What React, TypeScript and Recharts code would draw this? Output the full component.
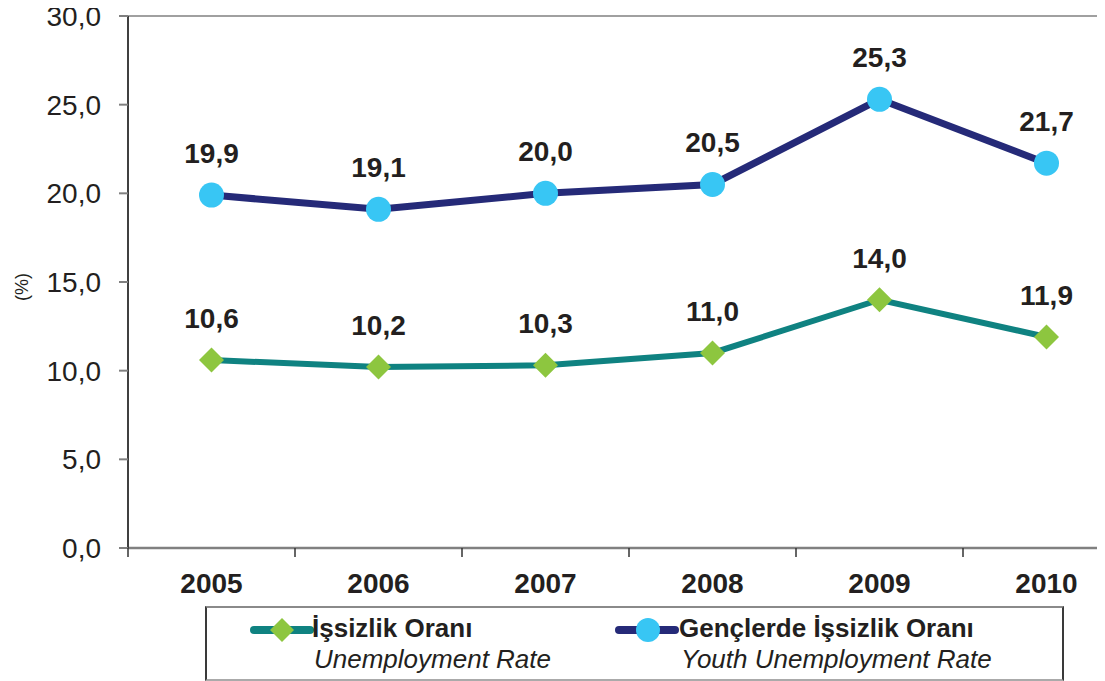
import React from 'react';
import { LineChart, Line, XAxis, YAxis, ReferenceLine, LabelList } from 'recharts';

const years = ['2005', '2006', '2007', '2008', '2009', '2010'];
const unemployment = [10.6, 10.2, 10.3, 11.0, 14.0, 11.9];
const youth = [19.9, 19.1, 20.0, 20.5, 25.3, 21.7];
const yTicks = [0, 5, 10, 15, 20, 25, 30];
const xTicks = [0, 0.5, 1, 1.5, 2, 2.5, 3, 3.5, 4, 4.5, 5, 5.5, 6];
const seriesNames = {
  u: ['İşsizlik Oranı', 'Unemployment Rate'],
  g: ['Gençlerde İşsizlik Oranı', 'Youth Unemployment Rate'],
};

const data = years.map((year, i) => ({ x: i + 0.5, year, u: unemployment[i], g: youth[i] }));

const NAVY = '#252A78';
const LIGHTBLUE = '#38C6F4';
const TEAL = '#0F8281';
const GREEN = '#8DC63F';
const TEXT = '#231F20';
const FONT = '"Liberation Sans", Arial, Helvetica, sans-serif';

const fmt = (v: any) => Number(v).toFixed(1).replace('.', ',');

const XTick = (props: any) => {
  const { x, y, payload } = props;
  const v = payload.value;
  if (Number.isInteger(v)) {
    return <line x1={x} x2={x} y1={y} y2={y + 9} stroke="#333" strokeWidth={1.5} />;
  }
  return (
    <text x={x} y={y + 25} dy="0.71em" textAnchor="middle" fontWeight="bold" fontSize={28} fill={TEXT}>
      {years[Math.floor(v)]}
    </text>
  );
};

const Diamond = (props: any) => {
  const { cx, cy } = props;
  if (cx == null || cy == null) return null;
  const s = 12.5;
  return <polygon points={`${cx},${cy - s} ${cx + s},${cy} ${cx},${cy + s} ${cx - s},${cy}`} fill={GREEN} />;
};

const YLabel = (p: any) => {
  const { x, y, height } = p.viewBox;
  const cx = x + 14;
  const cy = y + height / 2 + 5;
  return (
    <text x={cx} y={cy} transform={`rotate(-90, ${cx}, ${cy})`} textAnchor="middle" dominantBaseline="central" fontSize={18} fill={TEXT}>
      (%)
    </text>
  );
};

const LegendBox = () => (
  <div
    style={{
      position: 'absolute',
      left: 197,
      top: 598,
      width: 859,
      height: 75,
      borderStyle: 'solid',
      borderWidth: 2,
      borderColor: '#8a8a8a #3a3a3a #aaaaaa #3a3a3a',
      boxSizing: 'border-box',
      background: '#fff',
    }}
  >
    <svg style={{ position: 'absolute', left: 43, top: 8 }} width={64} height={28}>
      <line x1={4} x2={60} y1={14} y2={14} stroke={TEAL} strokeWidth={8} strokeLinecap="round" />
      <polygon points="32,2 44,14 32,26 20,14" fill={GREEN} />
    </svg>
    <div style={{ position: 'absolute', left: 105, top: 7, fontSize: 26, lineHeight: '26px', fontWeight: 'bold', color: TEXT, whiteSpace: 'nowrap' }}>
      {seriesNames.u[0]}
    </div>
    <div style={{ position: 'absolute', left: 107, top: 38, fontSize: 26, lineHeight: '26px', fontStyle: 'italic', color: TEXT, whiteSpace: 'nowrap' }}>
      {seriesNames.u[1]}
    </div>
    <svg style={{ position: 'absolute', left: 408, top: 8 }} width={64} height={28}>
      <line x1={4} x2={60} y1={14} y2={14} stroke={NAVY} strokeWidth={8} strokeLinecap="round" />
      <circle cx={33} cy={14} r={12} fill={LIGHTBLUE} />
    </svg>
    <div style={{ position: 'absolute', left: 472, top: 7, fontSize: 26, lineHeight: '26px', fontWeight: 'bold', color: TEXT, whiteSpace: 'nowrap' }}>
      {seriesNames.g[0]}
    </div>
    <div style={{ position: 'absolute', left: 474, top: 38, fontSize: 26, lineHeight: '26px', fontStyle: 'italic', color: TEXT, whiteSpace: 'nowrap' }}>
      {seriesNames.g[1]}
    </div>
  </div>
);

export default function App() {
  return (
    <div style={{ position: 'relative', width: 1097, height: 673, overflow: 'hidden', fontFamily: FONT, background: '#fff' }}>
      <LineChart width={1140} height={673} data={data} margin={{ top: 8, right: 18, bottom: 73, left: 0 }}>
        <XAxis
          dataKey="x"
          type="number"
          domain={[0, 6]}
          allowDataOverflow
          ticks={xTicks}
          interval={0}
          tick={<XTick />}
          tickLine={false}
          tickSize={0}
          tickMargin={0}
          height={60}
          axisLine={{ stroke: '#808080', strokeWidth: 2.5 }}
        />
        <YAxis
          type="number"
          domain={[0, 30]}
          ticks={yTicks}
          interval={0}
          width={120}
          tickFormatter={fmt}
          tick={{ fontSize: 28, fill: TEXT }}
          tickSize={9}
          tickMargin={18}
          tickLine={{ stroke: '#808080', strokeWidth: 2 }}
          axisLine={{ stroke: '#404040', strokeWidth: 2 }}
          label={{ content: YLabel } as any}
        />
        <ReferenceLine y={30} stroke="#A0A0A0" strokeWidth={2} />
        <Line
          type="linear"
          dataKey="u"
          stroke={TEAL}
          strokeWidth={6}
          dot={<Diamond />}
          activeDot={false}
          isAnimationActive={false}
        >
          <LabelList dataKey="u" position="top" offset={32} formatter={fmt} style={{ fontSize: 28, fontWeight: 'bold', fill: TEXT }} />
        </Line>
        <Line
          type="linear"
          dataKey="g"
          stroke={NAVY}
          strokeWidth={7}
          dot={{ r: 12.5, fill: LIGHTBLUE, stroke: 'none', strokeWidth: 0 }}
          activeDot={false}
          isAnimationActive={false}
        >
          <LabelList dataKey="g" position="top" offset={32} formatter={fmt} style={{ fontSize: 28, fontWeight: 'bold', fill: TEXT }} />
        </Line>
      </LineChart>
      <LegendBox />
    </div>
  );
}
